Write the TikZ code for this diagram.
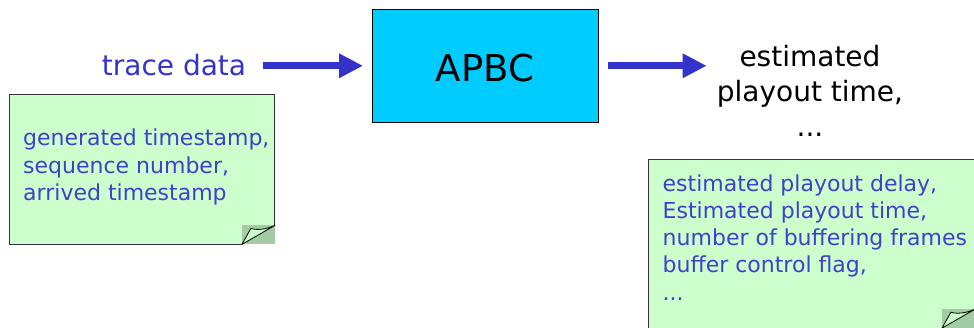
\documentclass[tikz,border=0pt]{standalone}
\usepackage{fontspec}
\setmainfont{DejaVu Sans}
\usetikzlibrary{arrows.meta}

\definecolor{arrowblue}{HTML}{3333CC}
\definecolor{notetext}{HTML}{4040CC}
\definecolor{notegreen}{HTML}{CCFFCC}
\definecolor{foldgreen}{HTML}{A4CCA4}
\definecolor{boxcyan}{HTML}{00CCFF}
\definecolor{noteline}{HTML}{333333}

\tikzset{
  bigarrow/.style={draw=arrowblue, line width=7pt,
    -{Triangle[length=24pt,width=23pt]}},
  heading/.style={inner sep=0pt, font=\fontsize{28}{35}\selectfont},
  procbox/.style={draw=black, line width=0.9pt, fill=boxcyan,
    minimum width=226pt, minimum height=113pt, inner sep=0pt},
  notearea/.style={inner sep=0pt, anchor=north west},
  notetxt/.style={inner sep=0pt, anchor=north west, align=left,
    text=notetext, font=\fontsize{22}{27.2}\selectfont},
  notefill/.style={fill=notegreen},
  foldfill/.style={fill=foldgreen},
  noteborder/.style={draw=noteline, line width=0.9pt},
  curl/.style={draw=black, line width=0.8pt, fill=notegreen, line join=round},
}

% sticky note outline with a curled lower-right corner
\newcommand\drawnote[1]{%
  \fill[notefill] (#1.north west) -- (#1.north east)
    -- ([yshift=19pt]#1.south east) -- ([xshift=-33pt]#1.south east)
    -- (#1.south west) -- cycle;
  \fill[foldfill] ([xshift=-33pt]#1.south east) rectangle ([yshift=19pt]#1.south east);
  \draw[noteborder] ([yshift=19pt]#1.south east) -- (#1.north east)
    -- (#1.north west) -- (#1.south west) -- ([xshift=-33pt]#1.south east);
  \filldraw[curl] ([xshift=-33pt]#1.south east)
    -- ([xshift=-24pt,yshift=16pt]#1.south east)
    .. controls ([xshift=-18pt,yshift=14pt]#1.south east)
       and ([xshift=-9pt,yshift=15pt]#1.south east)
    .. ([yshift=19pt]#1.south east) -- cycle;
}

\begin{document}
\begin{tikzpicture}[x=1pt, y=-1pt]
  \clip (0,0) rectangle (974,327);

  % input label, block, output label
  \node[heading, text=arrowblue, anchor=base] (trace) at (174,75) {trace data};
  \node[procbox] (apbc) at (485.5,65.8) {};
  \node[inner sep=0pt, anchor=base, font=\fontsize{37}{40}\selectfont] (apbclabel) at (485,81.7) {APBC};
  \node[heading, align=center, anchor=north] (est) at (810,45.5)
    {estimated\\playout time,\\...};

  % connectors
  \draw[bigarrow, shorten <=17pt, shorten >=9pt]
    (trace.east |- apbc.west) -- (apbc.west);
  \draw[bigarrow, shorten <=9pt, shorten >=10pt]
    (apbc.east) -- (est.west |- apbc.east);

  % input note
  \node[notearea, minimum width=265.5pt, minimum height=150pt] (innote) at (9,94) {};
  \drawnote{innote}
  \node[notetxt] (intext) at (23,129)
    {generated timestamp,\\sequence number,\\arrived timestamp};

  % output note
  \node[notearea, minimum width=326.5pt, minimum height=168.8pt] (outnote) at (648,159) {};
  \drawnote{outnote}
  \node[notetxt] (outtext) at (662.5,174.3)
    {estimated playout delay,\\Estimated playout time,\\number of buffering frames\\buffer control flag,\\...};
\end{tikzpicture}
\end{document}
